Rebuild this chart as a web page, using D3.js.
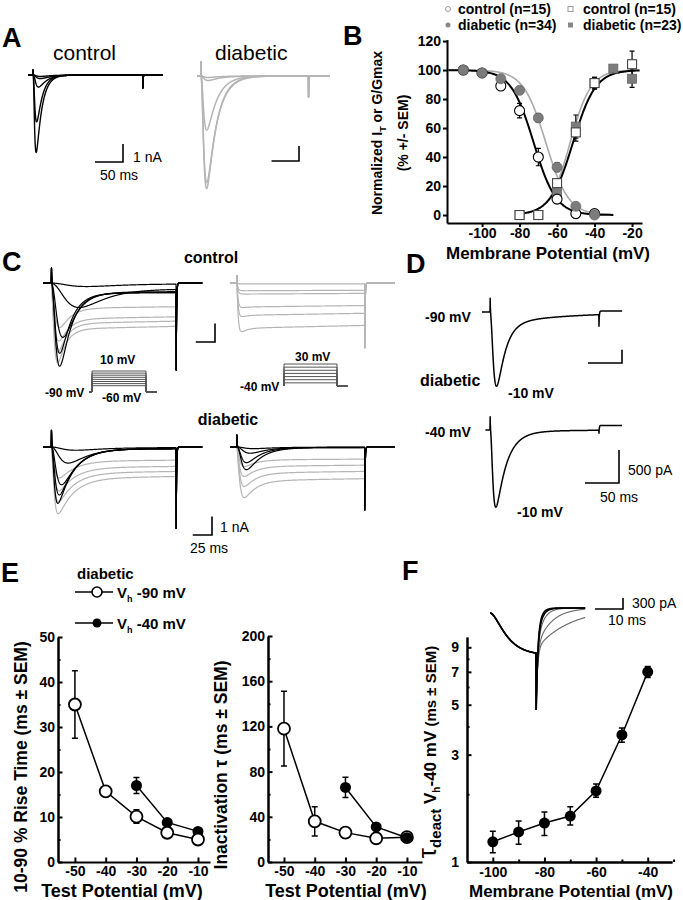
<!DOCTYPE html>
<html>
<head>
<meta charset="utf-8">
<script src="https://cdn.jsdelivr.net/npm/d3@7/dist/d3.min.js"></script>
<style>
html,body{margin:0;padding:0;background:#fff;}
svg{display:block;}
</style>
</head>
<body>
<svg id="fig" width="683" height="900"></svg>
<script>
// ================= DATA =================
// Panel A: example currents (peak nA, rise / decay time constants in ms)
const aCtrlAmp   = [4.3, 2.6, 0.67, 0.2, 0.08];
const aCtrlRise  = [2, 2.5, 4, 5, 5];
const aCtrlDecay = [10, 10, 14, 20, 20];
const aDiabAmp   = [7.5, 7.1, 3.6, 0.3, 0.1];
const aDiabRise  = [4, 4, 4, 5, 5];
const aDiabDecay = [17, 18, 18, 22, 22];

// Panel B: normalized inactivation (circles) / activation (squares), %
const inactV       = [-110, -100, -90, -80, -70, -60, -50, -40];
const inactCtrl    = [100, 98, 89, 72, 40, 11, 1, 1];
const inactCtrlErr = [1, 1, 3, 5, 6, 3, 3, 1];
const inactDiab    = [100, 98, 94, 86, 67, 33, 6, 0];
const inactDiabErr = [1, 1, 2, 2, 3, 3, 2, 1];
const actV         = [-80, -70, -60, -50, -40, -30, -20];
const actCtrl      = [0, 0, 22, 57, 91, null, 104];
const actCtrlErr   = [1, 1, 3, 6, 4, 0, 9];
const actDiab      = [0, 0, 16, 61, 91, 101, 94];
const actDiabErr   = [1, 1, 3, 8, 4, 2, 6];
const fitInactCtrl = [-72.5, 6];   // V1/2 (mV), slope (mV)
const fitInactDiab = [-66, 6];
const fitActCtrl   = [-51.5, 6];
const fitActDiab   = [-53, 5.5];
const bYTicks = [0, 20, 40, 60, 80, 100, 120];
const bXTicks = [-100, -80, -60, -40, -20];

// Panel C: families of currents (transient nA, rise ms, decay ms, sustained nA, grey flag)
const cC90Amp   = [2.0, 1.7, 1.33, 1.15, 4.0, 3.3, 2.5, 1.05, 0.15];
const cC90Rise  = [3, 3, 3.5, 4, 4.5, 4.5, 7, 22, 25];
const cC90Decay = [10, 11, 12, 13, 14, 14, 16, 28, 40];
const cC90Sus   = [2.5, 2.2, 1.95, 1.37, 0.55, 0.55, 0.5, 0.35, 0.05];
const cC90Gray  = [1, 1, 1, 1, 0, 0, 0, 0, 0];
const cC40Amp   = [0, 0, 0, 0.05, 0.1, 0.25];
const cC40Rise  = [1.5, 1.5, 1.5, 1.5, 1.5, 1.5];
const cC40Decay = [8, 8, 8, 8, 8, 8];
const cC40Sus   = [0.05, 0.42, 0.6, 1.3, 1.75, 2.45];
const cC40Gray  = [1, 1, 1, 1, 1, 1];
const cD90Amp   = [1.97, 1.6, 1.3, 0.95, 2.95, 2.5, 1.95, 0.8, 0.15];
const cD90Rise  = [2.6, 2.8, 3, 3.2, 2.6, 3.5, 5, 10, 15];
const cD90Decay = [20, 20, 20, 20, 20, 20, 21, 25, 35];
const cD90Sus   = [1.7, 1.41, 1.12, 0.76, 0.1, 0.1, 0.1, 0.08, 0.03];
const cD90Gray  = [1, 1, 1, 1, 0, 0, 0, 0, 0];
const cD40Amp   = [1.0, 0.8, 0.6, 0.4, 1.2, 0.82, 0.32, 0.08];
const cD40Rise  = [3, 3, 3, 3, 5, 5, 8, 10];
const cD40Decay = [15, 15, 15, 15, 18, 18, 20, 25];
const cD40Sus   = [1.83, 1.41, 1.05, 0.7, 0.03, 0.03, 0.02, 0.01];
const cD40Gray  = [1, 1, 1, 1, 0, 0, 0, 0];
const protoLeftLevels  = [-60, -50, -40, -30, -20, -10, 0, 10];
const protoLeftHold    = -90;
const protoRightLevels = [-30, -20, -10, 0, 10, 20, 30];
const protoRightHold   = -40;

// Panel D: diabetic currents at -10 mV from Vh -90 / -40
const dAmp   = [0.96, 1.12];
const dRise  = [4, 3];
const dDecay = [12, 15];
const dSus   = [0.2, 0.06];

// Panel E
const eTestV     = [-50, -40, -30, -20, -10];
const riseH90    = [35, 15.7, 10.1, 6.5, 5.0];
const riseH90Err = [7.5, 1.0, 1.5, 0.9, 0.8];
const riseH40    = [null, null, 17, 8.8, 6.8];
const riseH40Err = [0, 0, 1.8, 0.8, 0.6];
const tauH90     = [118, 36, 26, 21, 22];
const tauH90Err  = [33, 13, 3, 3, 2];
const tauH40     = [null, null, 66, 31, 21.5];
const tauH40Err  = [0, 0, 9, 3, 2];
const eRiseTicks = [0, 10, 20, 30, 40, 50];
const eTauTicks  = [0, 40, 80, 120, 160, 200];

// Panel F
const deactV   = [-100, -90, -80, -70, -60, -50, -40];
const deactTau = [1.23, 1.36, 1.49, 1.60, 2.07, 3.67, 7.0];
const deactLo  = [1.10, 1.20, 1.31, 1.46, 1.94, 3.41, 6.6];
const deactHi  = [1.37, 1.52, 1.67, 1.76, 2.22, 3.94, 7.4];
const fYTicks  = [1, 3, 5, 7, 9];
const fXTicks  = [-100, -80, -60, -40];
const insetTailTau = [1.2, 1.5, 2.2, 5, 12];   // ms
const insetAct     = [1.15, 4.5];               // nA, ms
const insetSpike   = [2.64, 0.136];             // peak tail nA, final level nA

// ================= DRAWING =================
const svg = d3.select('#fig');
const FONT = "Arial, 'Liberation Sans', Helvetica, sans-serif";
const TRACE_GRAY = '#b5b5b5';
const MARK_GRAY = '#7c7c7c';

svg.append('rect').attr('width', 683).attr('height', 900).attr('fill', '#fff');

function label(x, y, s, o = {}) {
  return svg.append('text').attr('x', x).attr('y', y).text(s)
    .attr('font-family', FONT).attr('font-size', o.size || 14)
    .attr('font-weight', o.weight || 'bold').attr('fill', o.fill || '#000')
    .attr('text-anchor', o.anchor || 'start');
}
function rich(x, y, parts, o = {}) {
  const t = svg.append('text').attr('font-family', FONT).attr('font-weight', 'bold')
    .attr('text-anchor', o.anchor || 'start').attr('fill', '#000');
  if (o.rotate) t.attr('transform', `translate(${x},${y}) rotate(${o.rotate})`);
  else t.attr('x', x).attr('y', y);
  parts.forEach(p => {
    const ts = t.append('tspan').text(p.t).attr('font-size', p.size || o.size || 14);
    if (p.dy) ts.attr('dy', p.dy);
    if (p.weight) ts.attr('font-weight', p.weight);
  });
  return t;
}

// panel letters
[['A', 2, 47], ['B', 343, 45], ['C', 2, 271], ['D', 406, 273], ['E', 1, 582], ['F', 402, 580]]
  .forEach(d => label(d[1], d[2], d[0], { size: 27 }));

// ---------- trace model ----------
function traceSamples(p, c) {
  const x = p.rise / (3 * p.decay + p.rise);
  const tp = -p.rise * Math.log(x);
  const fmax = Math.pow(1 - x, 3) * Math.exp(-tp / p.decay);
  const out = [];
  const n = Math.round((c.t1 - c.t0) / c.dt);
  for (let i = 0; i <= n; i++) {
    const t = c.t0 + i * c.dt;
    let I = 0;
    if (t >= 0 && t < c.end) {
      const m = 1 - Math.exp(-t / p.rise);
      I = -p.amp * m * m * m * Math.exp(-t / p.decay) / fmax
          - p.sus * m * Math.exp(-t / c.susTau) + c.cap * Math.exp(-t / 0.35);
    } else if (t >= c.end) {
      I = -c.tail * Math.exp(-(t - c.end) / 0.5) + c.post;
    }
    out.push([t, I]);
  }
  return out;
}
function tracePanel(cfg, amps, rises, decays, sus, grays) {
  const xs = d3.scaleLinear().domain([cfg.t0, cfg.t1]).range(cfg.xr);
  const ys = d3.scaleLinear().domain([0, -1]).range([cfg.y0, cfg.y0 + cfg.pxPerNA]);
  const line = d3.line().x(d => xs(d[0])).y(d => ys(d[1]));
  const idx = d3.range(amps.length).sort((a, b) => (grays[b] || 0) - (grays[a] || 0));
  idx.forEach(i => {
    const p = { amp: amps[i], rise: rises[i], decay: decays[i], sus: sus ? sus[i] : 0 };
    svg.append('path').attr('d', line(traceSamples(p, cfg))).attr('fill', 'none')
      .attr('stroke', grays[i] ? (cfg.gray || TRACE_GRAY) : '#000')
      .attr('stroke-width', cfg.sw || 1.2).attr('stroke-linejoin', 'round');
  });
  return { xs, ys };
}
function scaleBar(sc, xRight, yBottom, ms, nA, color) {
  const w = sc.xs(ms) - sc.xs(0);
  const h = sc.ys(-nA) - sc.ys(0);
  svg.append('path').attr('d', `M${xRight - w},${yBottom}H${xRight}V${yBottom - h}`)
    .attr('fill', 'none').attr('stroke', color || '#000').attr('stroke-width', 1.6);
}

// ---------- Panel A ----------
const aBase = { dt: 0.25, end: 196, susTau: 2000, post: 0 };
const aC = tracePanel(Object.assign({}, aBase, { t0: -9, t1: 232, xr: [28, 163], y0: 75, pxPerNA: 18, cap: 0.28, tail: 0.72, sw: 1.4 }),
  aCtrlAmp, aCtrlRise, aCtrlDecay, null, aCtrlAmp.map(() => 0));
const aD = tracePanel(Object.assign({}, aBase, { t0: -7, t1: 235, xr: [197, 330], y0: 76, pxPerNA: 15, cap: 0.93, tail: 1.4, sw: 1.5 }),
  aDiabAmp, aDiabRise, aDiabDecay, null, aDiabAmp.map(() => 1));
label(53, 60, 'control', { size: 21, weight: 'normal' });
label(215, 60, 'diabetic', { size: 21, weight: 'normal' });
scaleBar(aC, 123, 162, 50, 1);
scaleBar(aD, 299, 161, 50, 1);
label(133, 162, '1 nA', { size: 14, weight: 'normal' });
label(100, 180, '50 ms', { size: 14, weight: 'normal' });

// ---------- Panel B ----------
const bx = d3.scaleLinear().domain([-118.7, -14.7]).range([447, 642]);
const by = d3.scaleLinear().domain([-5.5, 121]).range([223, 39.6]);
function styleAxis(g, fs) {
  g.select('.domain').attr('stroke', '#000').attr('stroke-width', 2);
  g.selectAll('.tick line').attr('stroke', '#000').attr('stroke-width', 2);
  g.selectAll('.tick text').attr('font-family', FONT).attr('font-size', fs || 14)
    .attr('font-weight', 'bold').attr('fill', '#000');
}
{
  const gy = svg.append('g').attr('transform', 'translate(447,0)')
    .call(d3.axisLeft(by).tickValues(bYTicks).tickSize(4).tickSizeOuter(0).tickFormat(d3.format('d')));
  styleAxis(gy); gy.selectAll('.tick text').attr('x', -6);
  const gx = svg.append('g').attr('transform', 'translate(0,223)')
    .call(d3.axisBottom(bx).tickValues(bXTicks).tickSize(4).tickSizeOuter(0));
  styleAxis(gx); gx.selectAll('.tick text').attr('dy', null).attr('y', 15);
  gx.selectAll('.tick text').text(d => String(d));
}
rich(382, 133, [{ t: 'Normalized I' }, { t: 'T', size: 9, dy: 4 }, { t: ' or G/Gmax', dy: -4 }], { rotate: -90, anchor: 'middle', size: 14 });
rich(408, 133, [{ t: '(% +/- SEM)' }], { rotate: -90, anchor: 'middle', size: 14 });
label(548, 259, 'Membrane Potential (mV)', { size: 17, anchor: 'middle' });

function boltz(p, dir) { return v => 100 / (1 + Math.exp(dir * (v - p[0]) / p[1])); }
function fitLine(p, dir, v0, v1, color) {
  const f = boltz(p, dir);
  const vs = d3.range(v0, v1 + 0.01, 0.5);
  svg.append('path').attr('d', d3.line().x(v => bx(v)).y(v => by(f(v)))(vs))
    .attr('fill', 'none').attr('stroke', color).attr('stroke-width', color === '#000' ? 2 : 1.6);
}
fitLine(fitInactDiab, 1, -118, -30, '#aaaaaa');
fitLine(fitActDiab, -1, -80, -16, '#aaaaaa');
fitLine(fitInactCtrl, 1, -118, -30, '#000');
fitLine(fitActCtrl, -1, -80, -16, '#000');

function errB(vs, ys, es) {
  vs.forEach((v, i) => {
    if (ys[i] == null || !es[i]) return;
    const x = bx(v), y1 = by(ys[i] - es[i]), y2 = by(ys[i] + es[i]);
    svg.append('path').attr('d', `M${x},${y1}V${y2}M${x - 2.5},${y1}H${x + 2.5}M${x - 2.5},${y2}H${x + 2.5}`)
      .attr('stroke', '#000').attr('stroke-width', 1.2).attr('fill', 'none');
  });
}
errB(actV, actCtrl, actCtrlErr); errB(actV, actDiab, actDiabErr);
errB(inactV, inactCtrl, inactCtrlErr); errB(inactV, inactDiab, inactDiabErr);
actV.forEach((v, i) => {
  svg.append('rect').attr('x', bx(v) - 4.5).attr('y', by(actDiab[i]) - 4.5).attr('width', 9).attr('height', 9)
    .attr('fill', MARK_GRAY).attr('stroke', '#666').attr('stroke-width', 0.8);
});
actV.forEach((v, i) => {
  if (actCtrl[i] == null) return;
  svg.append('rect').attr('x', bx(v) - 4.5).attr('y', by(actCtrl[i]) - 4.5).attr('width', 9).attr('height', 9)
    .attr('fill', '#fff').attr('stroke', '#444').attr('stroke-width', 1.1);
});
inactV.forEach((v, i) => {
  svg.append('circle').attr('cx', bx(v)).attr('cy', by(inactCtrl[i])).attr('r', 5)
    .attr('fill', '#fff').attr('stroke', '#000').attr('stroke-width', 1.1);
});
inactV.forEach((v, i) => {
  svg.append('circle').attr('cx', bx(v)).attr('cy', by(inactDiab[i])).attr('r', 5)
    .attr('fill', MARK_GRAY).attr('stroke', '#6a6a6a').attr('stroke-width', 0.8);
});
// legend B
svg.append('circle').attr('cx', 448).attr('cy', 9).attr('r', 2.5).attr('fill', '#fff').attr('stroke', '#999');
svg.append('circle').attr('cx', 448).attr('cy', 25).attr('r', 2.5).attr('fill', '#888');
svg.append('rect').attr('x', 568).attr('y', 6.5).attr('width', 5).attr('height', 5).attr('fill', '#fff').attr('stroke', '#999');
svg.append('rect').attr('x', 568).attr('y', 22.5).attr('width', 5).attr('height', 5).attr('fill', '#888');
label(458, 14, 'control (n=15)'); label(458, 30, 'diabetic (n=34)');
label(583, 14, 'control (n=15)'); label(583, 30, 'diabetic (n=23)');

// ---------- Panel C ----------
label(211, 263, 'control', { size: 16, anchor: 'middle' });
label(228, 425, 'diabetic', { size: 16, anchor: 'middle' });
const cLeft = { dt: 0.25, t0: -11, t1: 196, xr: [43, 202.4], end: 162, susTau: 2500, post: 0 };
const cRight = { dt: 0.25, t0: -9, t1: 205, xr: [230, 394.8], end: 166, susTau: 2500, post: 0 };
const cTL = tracePanel(Object.assign({}, cLeft, { y0: 283, pxPerNA: 18.5, cap: 0.8, tail: 4.7 }),
  cC90Amp, cC90Rise, cC90Decay, cC90Sus, cC90Gray);
tracePanel(Object.assign({}, cRight, { y0: 283, pxPerNA: 18.5, cap: 0.4, tail: 3.5 }),
  cC40Amp, cC40Rise, cC40Decay, cC40Sus, cC40Gray);
const cBL = tracePanel(Object.assign({}, cLeft, { y0: 447, pxPerNA: 18.5, cap: 0.9, tail: 4.4 }),
  cD90Amp, cD90Rise, cD90Decay, cD90Sus, cD90Gray);
tracePanel(Object.assign({}, cRight, { y0: 447, pxPerNA: 18.5, cap: 0.65, tail: 3.4 }),
  cD40Amp, cD40Rise, cD40Decay, cD40Sus, cD40Gray);
scaleBar(cTL, 215, 342, 25, 1);
scaleBar(cBL, 212, 535, 25, 1);
label(220, 532, '1 nA', { size: 14, weight: 'normal' });
label(190, 553, '25 ms', { size: 14, weight: 'normal' });

function protocol(xr, yDom, yr, hold, levels, pre, post) {
  const xs = d3.scaleLinear().domain([0, 1]).range(xr);
  const ys = d3.scaleLinear().domain(yDom).range(yr);
  levels.forEach(L => {
    svg.append('path')
      .attr('d', `M${xs(pre)},${ys(hold)}H${xs(0)}V${ys(L)}H${xs(1)}V${ys(hold)}H${xs(post)}`)
      .attr('fill', 'none').attr('stroke', '#555').attr('stroke-width', 1);
  });
}
protocol([92, 146], [-90, 10], [392, 371], protoLeftHold, protoLeftLevels, -0.05, 1.2);
protocol([284, 337], [-40, 30], [386, 364], protoRightHold, protoRightLevels, 0, 1.2);
label(100, 364, '10 mV', { size: 12 });
label(45, 397, '-90 mV', { size: 12 });
label(102, 402, '-60 mV', { size: 12 });
label(295, 361, '30 mV', { size: 12 });
label(240, 391, '-40 mV', { size: 12 });

// ---------- Panel D ----------
const dX = d3.scaleLinear().domain([-12, 194]).range([482, 622.1]);
const dTop = tracePanel({ dt: 0.25, t0: -12, t1: 194, xr: [dX(-12), dX(194)], end: 160, susTau: 100, post: 0.015,
  y0: 312, pxPerNA: 66, cap: 0.21, tail: 0.23, sw: 1.5 }, [dAmp[0]], [dRise[0]], [dDecay[0]], [dSus[0]], [0]);
const dBot = tracePanel({ dt: 0.25, t0: -7, t1: 194, xr: [dX(-7), dX(194)], end: 160, susTau: 60, post: 0.07,
  y0: 430, pxPerNA: 66, cap: 0.2, tail: 0.12, sw: 1.5 }, [dAmp[1]], [dRise[1]], [dDecay[1]], [dSus[1]], [0]);
label(425, 322, '-90 mV', { size: 14 });
label(420, 386, 'diabetic', { size: 16 });
label(508, 398, '-10 mV', { size: 14 });
label(425, 437, '-40 mV', { size: 14 });
label(517, 517, '-10 mV', { size: 14 });
scaleBar(dTop, 622, 363, 50, 0.2);
scaleBar(dBot, 619, 483, 50, 0.5);
label(628, 475, '500 pA', { size: 14, weight: 'normal' });
label(600, 502, '50 ms', { size: 14, weight: 'normal' });

// ---------- Panel E ----------
label(77, 579, 'diabetic', { size: 15 });
svg.append('line').attr('x1', 75).attr('x2', 113).attr('y1', 592).attr('y2', 592).attr('stroke', '#000').attr('stroke-width', 1.5);
svg.append('circle').attr('cx', 97).attr('cy', 592).attr('r', 5).attr('fill', '#fff').attr('stroke', '#000').attr('stroke-width', 1.6);
svg.append('line').attr('x1', 75).attr('x2', 113).attr('y1', 623).attr('y2', 623).attr('stroke', '#000').attr('stroke-width', 1.5);
svg.append('circle').attr('cx', 97).attr('cy', 623).attr('r', 4.5).attr('fill', '#000');
rich(117, 598, [{ t: 'V', size: 15 }, { t: 'h', size: 9, dy: 4 }, { t: ' -90 mV', size: 15, dy: -4 }]);
rich(117, 629, [{ t: 'V', size: 15 }, { t: 'h', size: 9, dy: 4 }, { t: ' -40 mV', size: 15, dy: -4 }]);

function xyPlot(cfg) {
  const xs = d3.scaleLinear().domain(cfg.xDom).range(cfg.xr);
  const ys = (cfg.log ? d3.scaleLog() : d3.scaleLinear()).domain(cfg.yDom).range(cfg.yr);
  if (cfg.yMinor) {
    svg.append('g').attr('transform', `translate(${cfg.xr[0]},0)`)
      .call(d3.axisLeft(ys).tickValues(cfg.yMinor).tickSize(-2.5).tickSizeOuter(0).tickFormat(''))
      .call(g => styleAxis(g));
  }
  const gy = svg.append('g').attr('transform', `translate(${cfg.xr[0]},0)`)
    .call(d3.axisLeft(ys).tickValues(cfg.yTicks).tickSize(-4.5).tickSizeOuter(0).tickFormat(d3.format('d')));
  styleAxis(gy, cfg.fs); gy.selectAll('.tick text').attr('x', -cfg.yPad);
  if (cfg.xMinor) {
    svg.append('g').attr('transform', `translate(0,${cfg.yr[0]})`)
      .call(d3.axisBottom(xs).tickValues(cfg.xMinor).tickSize(-2.5).tickSizeOuter(0).tickFormat(''))
      .call(g => styleAxis(g));
  }
  const gx = svg.append('g').attr('transform', `translate(0,${cfg.yr[0]})`)
    .call(d3.axisBottom(xs).tickValues(cfg.xTicks).tickSize(-4.5).tickSizeOuter(0));
  styleAxis(gx, cfg.fs); gx.selectAll('.tick text').attr('dy', null).attr('y', cfg.xLab)
    .text(d => String(d));
  return { xs, ys };
}
function series(sc, xv, yv, lo, hi, filled, r) {
  const pts = xv.map((x, i) => [x, yv[i], lo[i], hi[i]]).filter(d => d[1] != null);
  svg.append('path').attr('d', d3.line().x(d => sc.xs(d[0])).y(d => sc.ys(d[1]))(pts))
    .attr('fill', 'none').attr('stroke', '#000').attr('stroke-width', 1.5);
  return () => {
    pts.forEach(d => {
      const x = sc.xs(d[0]), y1 = sc.ys(d[2]), y2 = sc.ys(d[3]);
      svg.append('path').attr('d', `M${x},${y1}V${y2}M${x - 3},${y1}H${x + 3}M${x - 3},${y2}H${x + 3}`)
        .attr('stroke', '#000').attr('stroke-width', 1.5).attr('fill', 'none');
    });
    pts.forEach(d => {
      svg.append('circle').attr('cx', sc.xs(d[0])).attr('cy', sc.ys(d[1])).attr('r', r)
        .attr('fill', filled ? '#000' : '#fff').attr('stroke', '#000').attr('stroke-width', filled ? 0 : 1.8);
    });
  };
}
// E left
const eL = xyPlot({ xDom: [-55.5, -6.1], xr: [58, 210], yDom: [0, 50], yr: [862, 637], yTicks: eRiseTicks,
  yMinor: [5, 15, 25, 35, 45], xTicks: eTestV, yPad: 3, xLab: 14, fs: 14 });
{
  const o = series(eL, eTestV, riseH90, riseH90.map((v, i) => v - riseH90Err[i]), riseH90.map((v, i) => v + riseH90Err[i]), false, 6);
  const f = series(eL, eTestV, riseH40, riseH40.map((v, i) => v == null ? null : v - riseH40Err[i]), riseH40.map((v, i) => v == null ? null : v + riseH40Err[i]), true, 5.5);
  f(); o();
}
rich(27, 767, [{ t: '10-90 % Rise Time (ms ± SEM)' }], { rotate: -90, anchor: 'middle', size: 17.5 });
label(122, 897, 'Test Potential (mV)', { size: 18, anchor: 'middle' });
// E right
const eR = xyPlot({ xDom: [-55.2, -5.1], xr: [268, 422], yDom: [0, 200], yr: [862, 636], yTicks: eTauTicks,
  yMinor: [20, 60, 100, 140, 180], xTicks: eTestV, yPad: 3, xLab: 14, fs: 14 });
{
  const o = series(eR, eTestV, tauH90, tauH90.map((v, i) => v - tauH90Err[i]), tauH90.map((v, i) => v + tauH90Err[i]), false, 6);
  const f = series(eR, eTestV, tauH40, tauH40.map((v, i) => v == null ? null : v - tauH40Err[i]), tauH40.map((v, i) => v == null ? null : v + tauH40Err[i]), true, 5.5);
  o(); f();
}
rich(227, 765, [{ t: 'Inactivation τ  (ms ± SEM)' }], { rotate: -90, anchor: 'middle', size: 17.5 });
label(346, 897, 'Test Potential (mV)', { size: 18, anchor: 'middle' });

// ---------- Panel F ----------
const fP = xyPlot({ xDom: [-110, -30.6], xr: [467, 672], yDom: [1, 10], yr: [862, 637], log: true, yTicks: fYTicks,
  yMinor: [2, 4, 6, 8], xTicks: fXTicks, xMinor: [-90, -70, -50, -30], yPad: 8, xLab: 15, fs: 14 });
series(fP, deactV, deactTau, deactLo, deactHi, true, 5.5)();
label(571, 897, 'Membrane Potential (mV)', { size: 17, anchor: 'middle' });
rich(436, 752, [{ t: 'τ', size: 26, weight: 'normal' }, { t: 'deact', size: 15, dy: 5 }, { t: ' V', size: 17, dy: -5 },
  { t: 'h', size: 10, dy: 4 }, { t: '-40 mV', size: 17, dy: -4 }, { t: '  (ms ± SEM)', size: 15 }], { rotate: -90, anchor: 'middle' });

// inset traces
{
  const xs = d3.scaleLinear().domain([0, 34]).range([490, 585.2]);
  const ys = d3.scaleLinear().domain([0, -1]).range([613, 649.7]);
  const stepEnd = 16.5;
  const line = d3.line().x(d => xs(d[0])).y(d => ys(d[1]));
  insetTailTau.slice().reverse().forEach((tau, k) => {
    const pts = [];
    for (let i = 0; i <= 340; i++) {
      const t = i * 0.1;
      let I;
      if (t < stepEnd) I = -insetAct[0] * Math.pow(1 - Math.exp(-t / insetAct[1]), 2);
      else {
        const dt = t - stepEnd;
        I = insetSpike[1] - (insetSpike[0] + insetSpike[1]) * (0.6 * Math.exp(-dt / 0.5) + 0.4 * Math.exp(-dt / tau));
      }
      pts.push([t, I]);
    }
    const fast = k >= 3;
    svg.append('path').attr('d', line(pts)).attr('fill', 'none')
      .attr('stroke', fast ? '#000' : '#666').attr('stroke-width', fast ? 1.6 : 1.1);
  });
  scaleBar({ xs, ys }, 623, 609, 10, 0.3);
  label(632, 608, '300 pA', { size: 14, weight: 'normal' });
  label(608, 625, '10 ms', { size: 14, weight: 'normal' });
}
</script>
</body>
</html>
